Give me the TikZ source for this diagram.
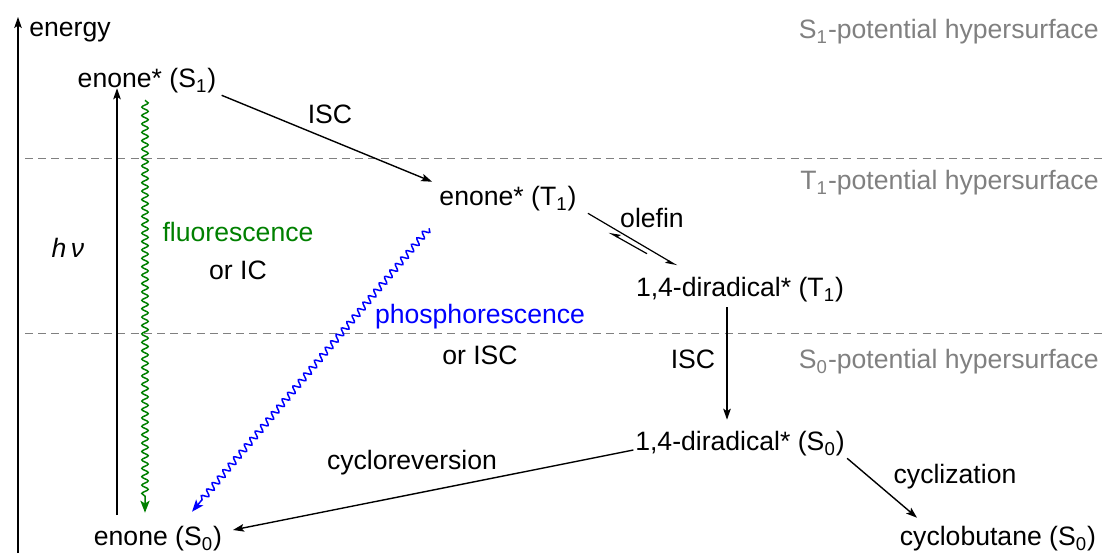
\documentclass[tikz,border=0pt]{standalone}
\usepackage{fontspec}
\setmainfont{Liberation Sans}
\usetikzlibrary{arrows.meta,decorations.pathmorphing,calc}
\definecolor{hgray}{RGB}{128,128,128}
\definecolor{fgreen}{RGB}{0,128,0}
\definecolor{pblue}{RGB}{0,0,255}
\newcommand\sbs[1]{\textsubscript{#1}}
\begin{document}
\begin{tikzpicture}[x=0.5pt,y=-0.5pt,
  lbl/.style={font=\fontsize{13.3}{16}\selectfont, inner sep=1pt},
  hyp/.style={lbl, text=hgray, anchor=east},
  tip/.style={-{Stealth[length=5.5pt,width=3.8pt,inset=1.2pt]}},
  wtip/.style={-{Stealth[length=6pt,width=4.6pt,inset=1.4pt]}},
  arr/.style={line width=0.7pt, tip},
  harp/.style={line width=0.6pt, -{Stealth[length=5pt,width=3.5pt,inset=1pt,harpoon,swap]}},
  sep/.style={hgray, line width=0.5pt, dash pattern=on 4pt off 2.6pt},
  wave/.style={line width=0.75pt, wtip, decorate,
    decoration={snake, segment length=4.2pt, amplitude=1.6pt, post length=7pt}}
]
\useasboundingbox (0,0) rectangle (1104,553);

% energy axis
\coordinate (axbot) at (18,553);
\coordinate (axtop) at (18,17);
\draw[line width=0.7pt, tip] (axbot) -- (axtop);
\node[lbl] (energy) at (70,32) {energy};

% separators
\coordinate (l1a) at (25,158); \coordinate (l1b) at (1104,158);
\coordinate (l2a) at (25,333); \coordinate (l2b) at (1104,333);
\draw[sep] (l1a) -- (l1b);
\draw[sep] (l2a) -- (l2b);

% hypersurface labels
\node[hyp] (hs1) at (1101,32) {S\sbs{1}-potential hypersurface};
\node[hyp] (ht1) at (1101,183) {T\sbs{1}-potential hypersurface};
\node[hyp] (hs0) at (1101,362) {S\sbs{0}-potential hypersurface};

% species
\node[lbl] (s1) at (147,81) {enone* (S\sbs{1})};
\node[lbl] (t1) at (508,199) {enone* (T\sbs{1})};
\node[lbl] (d1) at (740,290) {1,4-diradical* (T\sbs{1})};
\node[lbl] (d0) at (740,444) {1,4-diradical* (S\sbs{0})};
\node[lbl] (e0) at (158,539) {enone (S\sbs{0})};
\node[lbl] (cb) at (998,539) {cyclobutane (S\sbs{0})};

% labels
\node[lbl] (isc1) at (330,114) {ISC};
\node[lbl] (olefin) at (652,218) {olefin};
\node[lbl] (isc2) at (693,359) {ISC};
\node[lbl] (crev) at (412,463) {cycloreversion};
\node[lbl] (cycl) at (955,477) {cyclization};
\node[lbl] (hv) at (68,248) {\itshape h\,ν};
\node[lbl, text=fgreen] (fl) at (238,232) {fluorescence};
\node[lbl] (oric) at (238,270) {or IC};
\node[lbl, text=pblue] (ph) at (480,317) {phosphorescence};
\node[lbl] (orisc) at (480,355) {or ISC};

% connectors
\draw[arr] ($(s1.south east)+(3,-0.5)$) -- ($(t1.north west)+(-5,-2.5)$);
\draw[arr] ($(e0.north)+(-41,-9)$) -- ($(s1.south)+(-30,-7.5)$);
\draw[wave, fgreen] ($(s1.south)+(-2,4.5)$) -- ($(e0.north)+(-13,-11.5)$);
\draw[wave, pblue] ($(t1.south west)+(-8,14.5)$) -- ($(e0.north)+(34,-12.5)$);
\draw[harp] ($(t1.south east)+(9,-0.5)$) -- ($(d1.north)+(-63,-9.5)$);
\draw[harp] ($(d1.north)+(-93,-21.5)$) -- ($(t1.south east)+(30,18.5)$);
\draw[arr] ($(d1.south)+(-13,2.5)$) -- ($(d0.north)+(-13,-9.5)$);
\draw[arr] ($(d0.west)+(0.5,6)$) -- ($(e0.east)+(8.5,-9)$);
\draw[arr] ($(d0.south east)+(0,-0.5)$) -- ($(cb.north west)+(19.5,-6.5)$);
\end{tikzpicture}
\end{document}
